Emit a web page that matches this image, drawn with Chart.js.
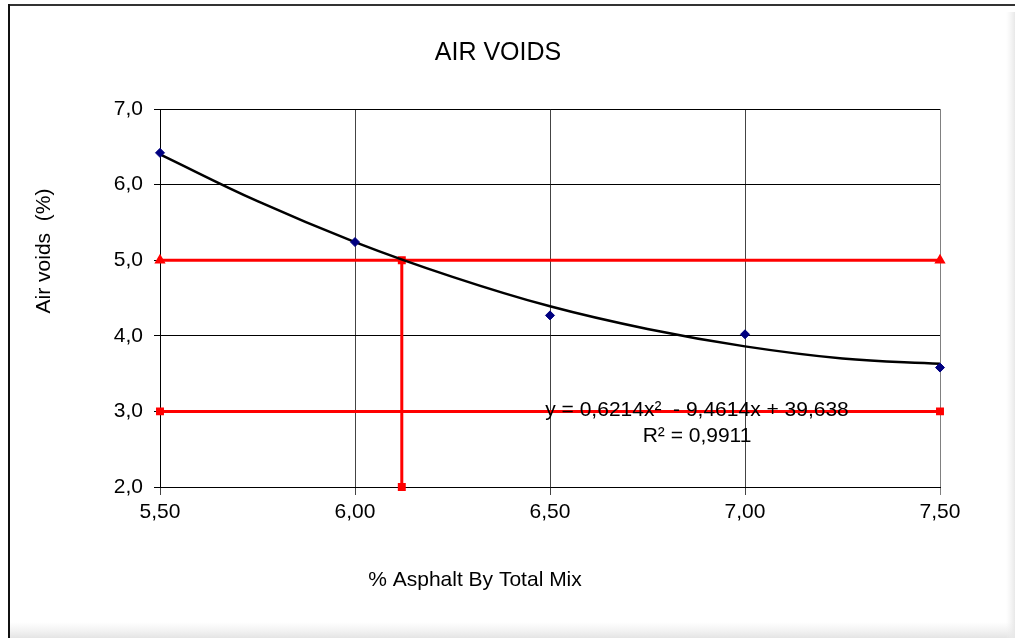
<!DOCTYPE html>
<html>
<head>
<meta charset="utf-8">
<title>Air Voids</title>
<script src="https://cdn.jsdelivr.net/npm/chart.js@4/dist/chart.umd.min.js"></script>
<style>
  html, body { margin: 0; padding: 0; background: #fff; }
  #wrap { width: 1015px; height: 638px; position: relative; }
</style>
</head>
<body>
<div id="wrap"><canvas id="voidsChart" width="1015" height="638"></canvas></div>
<script>

// ─────────────────────────────────────
// DATA
// ─────────────────────────────────────

const asphaltContent = [5.50, 6.00, 6.50, 7.00, 7.50];
const airVoids = [6.42, 5.24, 4.27, 4.02, 3.58];

// polynomial trend line
const trendX = [5.50, 5.75, 6.00, 6.25, 6.50, 6.75, 7.00, 7.25, 7.50];
const trendY = [6.40, 5.78, 5.24, 4.78, 4.39, 4.09, 3.86, 3.70, 3.63];

// spec limits and design binder content
const upperLimit = 5.0;
const lowerLimit = 3.0;
const designAsphalt = 6.12;

const xTicks = [5.50, 6.00, 6.50, 7.00, 7.50];
const yTicks = [2.0, 3.0, 4.0, 5.0, 6.0, 7.0];

const chartTitle = "AIR VOIDS";
const xTitle = "% Asphalt By Total Mix";
const yTitle = "Air voids  (%)";
const equationText = "y = 0,6214x\u00B2  - 9,4614x + 39,638";
const r2Text = "R\u00B2 = 0,9911";

const FONT = "'Liberation Sans', Arial, sans-serif";

const toPoints = (xs, ys) => xs.map((x, i) => ({ x: x, y: ys[i] }));
const xMin = xTicks[0];
const xMax = xTicks[xTicks.length - 1];


// ─────────────────────────────────────
// FRAME + TEXT PLUGIN
// ─────────────────────────────────────

const frameAndText = {
    id: "frameAndText",

    beforeDraw(chart) {
        const ctx = chart.ctx;
        const w = chart.width;
        const h = chart.height;

        ctx.save();
        ctx.fillStyle = "#fff";
        ctx.fillRect(0, 0, w, h);

        // soft shadow on the right and bottom edges
        let g = ctx.createLinearGradient(0, h - 16, 0, h);
        g.addColorStop(0, "rgba(235,235,235,0)");
        g.addColorStop(1, "rgba(228,228,228,1)");
        ctx.fillStyle = g;
        ctx.fillRect(9, h - 16, w - 9, 16);

        g = ctx.createLinearGradient(w - 9, 0, w, 0);
        g.addColorStop(0, "rgba(240,240,240,0)");
        g.addColorStop(1, "rgba(232,232,232,1)");
        ctx.fillStyle = g;
        ctx.fillRect(w - 9, 12, 9, h - 12);

        // outer border lines
        ctx.fillStyle = "#333";
        ctx.fillRect(8, 4, w - 8, 2);
        ctx.fillStyle = "#111";
        ctx.fillRect(8, 4, 2, h - 4);
        ctx.restore();
    },

    afterDraw(chart) {
        const ctx = chart.ctx;
        const xs = chart.scales.x;
        const ys = chart.scales.y;

        ctx.save();
        ctx.fillStyle = "#000";
        ctx.textAlign = "center";
        ctx.textBaseline = "middle";

        ctx.font = "25px " + FONT;
        ctx.fillText(chartTitle, 498, 53);

        ctx.font = "21px " + FONT;
        ctx.fillText(xTitle, 475, 580);

        ctx.save();
        ctx.translate(44, 251);
        ctx.rotate(-Math.PI / 2);
        ctx.fillText(yTitle, 0, 0);
        ctx.restore();

        // trend line label
        const ex = xs.getPixelForValue(6.877);
        ctx.fillText(equationText, ex, ys.getPixelForValue(3.0) - 1);
        ctx.fillText(r2Text, ex, ys.getPixelForValue(2.67));
        ctx.restore();
    }
};


// ─────────────────────────────────────
// CHART
// ─────────────────────────────────────

new Chart(document.getElementById("voidsChart"), {

    type: "scatter",

    data: {
        datasets: [
            {
                label: "Upper limit",
                type: "line",
                data: toPoints([xMin, xMax], [upperLimit, upperLimit]),
                borderColor: "#ff0000",
                backgroundColor: "#ff0000",
                borderWidth: 3,
                pointStyle: "triangle",
                pointRadius: 3.5,
                clip: false,
                order: 3
            },
            {
                label: "Lower limit",
                type: "line",
                data: toPoints([xMin, xMax], [lowerLimit, lowerLimit]),
                borderColor: "#ff0000",
                backgroundColor: "#ff0000",
                borderWidth: 3,
                pointStyle: "rect",
                pointRadius: 3.5,
                clip: false,
                order: 3
            },
            {
                label: "Design asphalt",
                type: "line",
                data: toPoints([designAsphalt, designAsphalt], [upperLimit, yTicks[0]]),
                borderColor: "#ff0000",
                backgroundColor: "#ff0000",
                borderWidth: 3,
                pointStyle: "rect",
                pointRadius: 3.5,
                clip: false,
                order: 3
            },
            {
                label: "Trend",
                type: "line",
                data: toPoints(trendX, trendY),
                borderColor: "#000",
                borderWidth: 2.5,
                pointRadius: 0,
                tension: 0.4,
                clip: false,
                order: 2
            },
            {
                label: "Air voids",
                data: toPoints(asphaltContent, airVoids),
                backgroundColor: "#000080",
                borderColor: "#000080",
                pointStyle: "rectRot",
                pointRadius: 4.5,
                clip: false,
                order: 1
            }
        ]
    },

    options: {
        responsive: false,
        animation: false,
        layout: {
            padding: { top: 109, right: 75, left: 0, bottom: 0 }
        },
        plugins: {
            legend: { display: false },
            tooltip: { enabled: false }
        },
        scales: {
            x: {
                type: "linear",
                min: xMin,
                max: xMax,
                afterFit: s => { s.height = 151; },
                afterBuildTicks: s => { s.ticks = xTicks.map(v => ({ value: v })); },
                ticks: {
                    color: "#000",
                    font: { family: FONT, size: 21 },
                    padding: 5,
                    maxRotation: 0,
                    callback: v => v.toFixed(2).replace(".", ",")
                },
                grid: {
                    color: ctx => ctx.index === xTicks.length - 1 ? "#808080" : "#444",
                    lineWidth: 1,
                    tickLength: 8
                },
                border: { color: "#000", width: 1 }
            },
            y: {
                min: yTicks[0],
                max: yTicks[yTicks.length - 1],
                afterFit: s => { s.width = 160; },
                afterBuildTicks: s => { s.ticks = yTicks.map(v => ({ value: v })); },
                ticks: {
                    color: "#000",
                    font: { family: FONT, size: 21 },
                    padding: 11,
                    callback: v => v.toFixed(1).replace(".", ",")
                },
                grid: {
                    color: "#000",
                    lineWidth: 1,
                    tickLength: 6
                },
                border: { color: "#000", width: 1 }
            }
        }
    },

    plugins: [frameAndText]
});

</script>
</body>
</html>
